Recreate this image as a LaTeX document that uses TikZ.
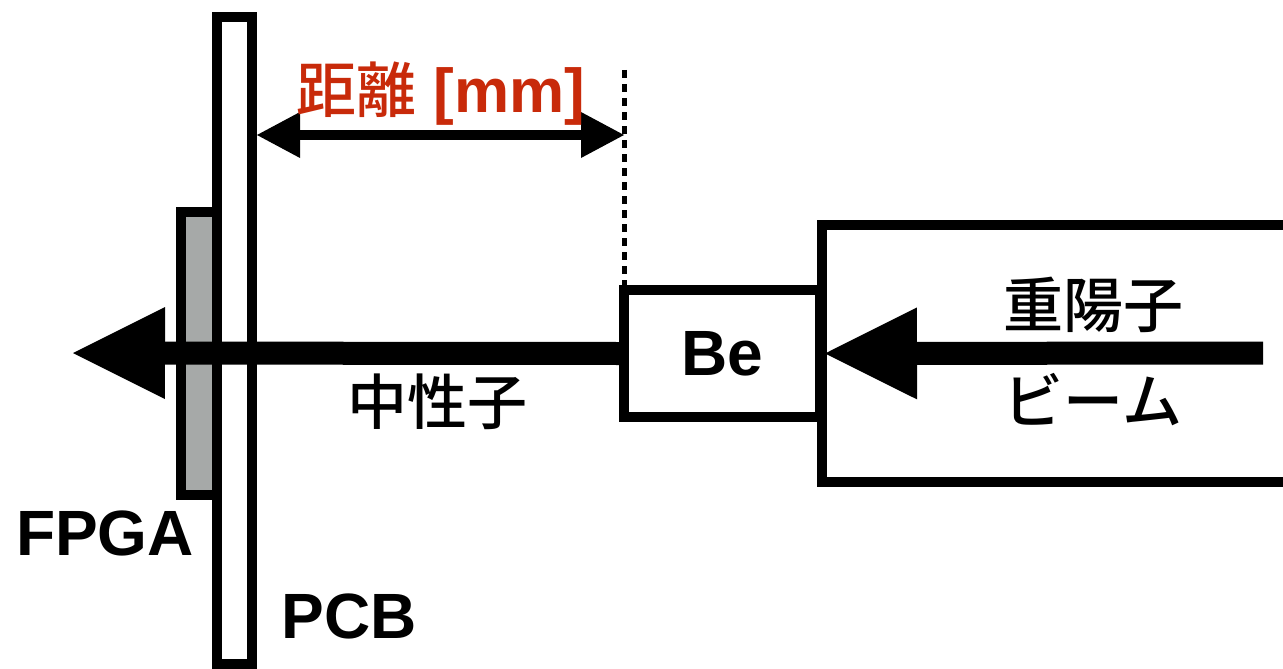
\documentclass[tikz,border=0pt]{standalone}
\usepackage{fontspec}
\setmainfont{Liberation Sans}
\newfontfamily\jp{Noto Sans CJK JP}[UprightFont={* Medium}]
\usetikzlibrary{arrows.meta}
\definecolor{colorlabel}{HTML}{C82A0A}
\definecolor{colorfpga}{HTML}{A6A9A8}

\begin{document}
\begin{tikzpicture}[x=1pt,y=-1pt,
    wall/.style={draw,line width=10pt},
    latin/.style={font=\bfseries\fontsize{64}{70}\selectfont,inner sep=0pt},
    kanji/.style={font=\jp\fontsize{60}{64}\selectfont,inner sep=0pt},
    bigarrow/.style={line width=23pt,-{Triangle[length=92pt,width=92pt,line width=0pt]}},
    dimtip/.tip={Triangle[length=43pt,width=46pt,line width=0pt]}]
    \useasboundingbox (0,0) rectangle (1283,669);
    % FPGA on the PCB
    \filldraw[wall,fill=colorfpga] (217,212) rectangle (181,495);
    \draw[wall] (217,17) rectangle (252,664);
    % beam pipe and target
    \draw[wall] (1300,225) -- (822,225) -- (822,482) -- (1300,482);
    \node[wall,fill=white,minimum width=196pt,minimum height=127pt,latin] (be) at (722,353.5) {Be};
    % beams
    \coordinate (beamin) at (1263,353);
    \coordinate (nout) at (73,353);
    \draw[bigarrow] (beamin) -- (be.east);
    \draw[bigarrow] (be.west) -- (nout);
    % distance
    \coordinate (dimtop) at (624,70);
    \coordinate (pcbface) at (257,135);
    \draw[line width=5pt,dash pattern=on 8pt off 6pt] (dimtop) -- (dimtop |- be.north);
    \draw[line width=10pt,dimtip-dimtip] (pcbface) -- (dimtop |- pcbface);
    \node[inner sep=0pt,text=colorlabel,anchor=base] (dist) at (441,112)
        {{\jp\fontsize{60}{64}\selectfont 距離}{\bfseries\fontsize{62}{68}\selectfont\ [mm]}};
    % labels
    \node[latin,anchor=base] (fpga) at (105,555) {FPGA};
    \node[latin,anchor=base] (pcb) at (349,638) {PCB};
    \node[kanji] (neutron) at (437,402) {中性子};
    \node[kanji] (deuteron) at (1093,305) {重陽子};
    \node[kanji] (beam) at (1093,400) {ビーム};
\end{tikzpicture}
\end{document}
